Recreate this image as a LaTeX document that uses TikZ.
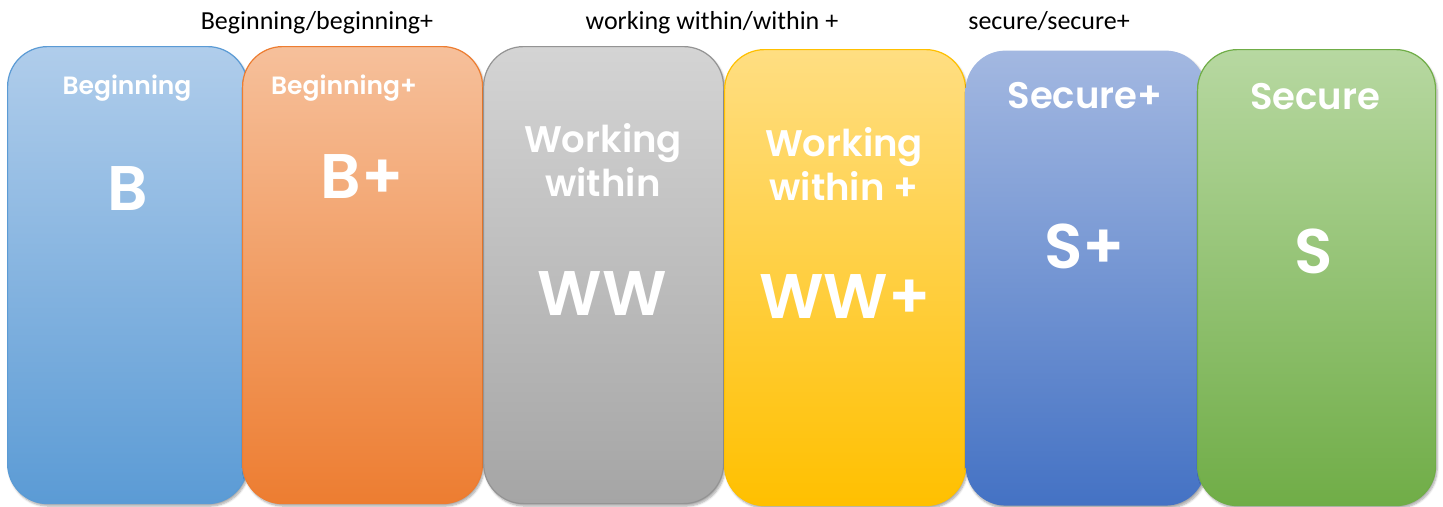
\documentclass[tikz,border=0pt]{standalone}
\usepackage{fontspec}
\setmainfont{Poppins}[BoldFont={Poppins SemiBold}]
\newfontfamily\labelfont{Carlito}
\usetikzlibrary{shadows.blur}

\definecolor{blauA}{HTML}{B0CDEB}
\definecolor{blauB}{HTML}{5B9BD5}
\definecolor{orangeA}{HTML}{F6C09B}
\definecolor{orangeB}{HTML}{ED7D31}
\definecolor{grauA}{HTML}{D4D4D4}
\definecolor{grauB}{HTML}{A5A5A5}
\definecolor{goldA}{HTML}{FFDE82}
\definecolor{goldB}{HTML}{FFC000}
\definecolor{indigoA}{HTML}{A3B8E1}
\definecolor{indigoB}{HTML}{4472C4}
\definecolor{gruenA}{HTML}{B7D8A1}
\definecolor{gruenB}{HTML}{70AD47}

\begin{document}
\begin{tikzpicture}[x=1pt,y=-1pt]

	% Styles
	\tikzstyle{stufe} = [rectangle,rounded corners=40pt,anchor=north west,inner sep=0pt,
		line width=1.2pt,blur shadow={shadow xshift=1.5pt,shadow yshift=-2.5pt,shadow blur steps=6,shadow opacity=35}]
	\tikzstyle{titel} = [anchor=base,text=white,font=\bfseries\fontsize{25}{30}\selectfont]
	\tikzstyle{gross} = [anchor=base,text=white,font=\bfseries\fontsize{37}{45}\selectfont]
	\tikzstyle{kurz} = [anchor=base,text=white,font=\bfseries\fontsize{63}{70}\selectfont]
	\tikzstyle{oben} = [anchor=base,font=\labelfont\fontsize{26}{30}\selectfont]

	\useasboundingbox (0,0) rectangle (1443,506);

	% Kaesten
	\node at (7,46) [stufe,draw=blauB,top color=blauA,bottom color=blauB,
		minimum width=240pt,minimum height=457pt] (beg) {};
	\node at (242,46) [stufe,draw=orangeB,top color=orangeA,bottom color=orangeB,
		minimum width=240pt,minimum height=457pt] (begplus) {};
	\node at (483,46) [stufe,draw=grauB!90!black,top color=grauA,bottom color=grauB,
		minimum width=240pt,minimum height=457pt] (ww) {};
	\node at (724,49) [stufe,draw=goldB,top color=goldA,bottom color=goldB,
		minimum width=241pt,minimum height=456pt] (wwplus) {};
	\node at (965,50) [stufe,top color=indigoA,bottom color=indigoB,
		minimum width=240pt,minimum height=455pt] (secplus) {};
	\node at (1197,49) [stufe,draw=gruenB,top color=gruenA,bottom color=gruenB,
		minimum width=238pt,minimum height=456pt] (sec) {};

	% Beschriftungen in den Kaesten
	\node at (127,94) [titel] (begT) {Beginning};
	\node at (128,210) [kurz] (begK) {B};
	\node at (344,94) [titel] (begplusT) {Beginning+};
	\node at (362,198) [kurz] (begplusK) {B+};
	\node at (603,152) [gross] (wwT) {Working};
	\node at (603,196) [gross] (wwT2) {within};
	\node at (602,315) [kurz] (wwK) {WW};
	\node at (844,156) [gross] (wwplusT) {Working};
	\node at (844,200) [gross] (wwplusT2) {within +};
	\node at (845,318) [kurz] (wwplusK) {WW+};
	\node at (1085,108) [gross] (secplusT) {Secure+};
	\node at (1085,268) [kurz] (secplusK) {S+};
	\node at (1315,109) [gross] (secT) {Secure};
	\node at (1314,273) [kurz] (secK) {S};

	% Labels oben
	\node at (317,29) [oben] (l1) {Beginning/beginning+};
	\node at (712,29) [oben] (l2) {working within/within +};
	\node at (1049,29) [oben] (l3) {secure/secure+};

\end{tikzpicture}
\end{document}
